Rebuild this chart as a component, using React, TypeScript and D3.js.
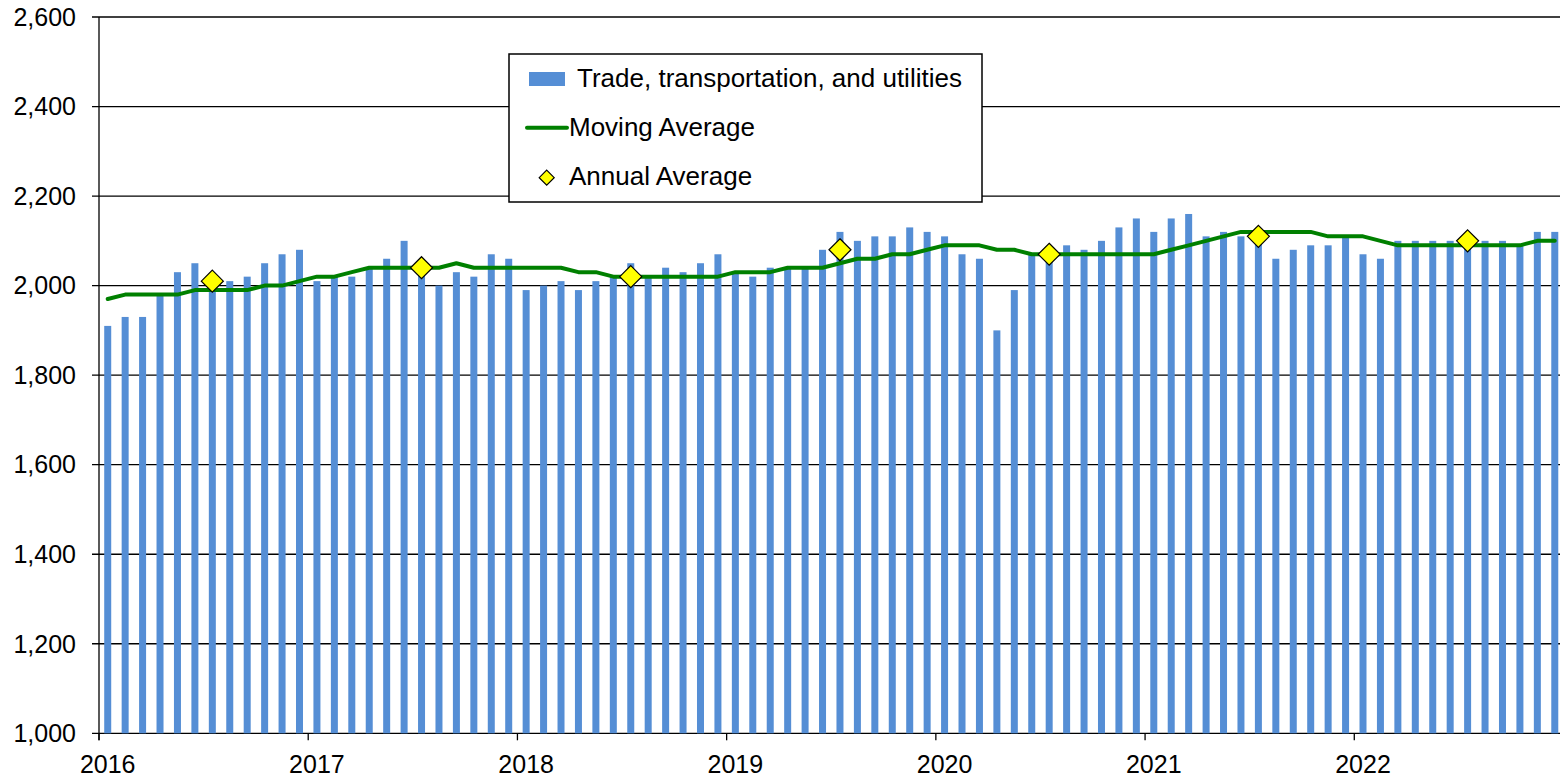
import * as d3 from "d3";
import * as React from "react";

// monthly values, Jan 2016 .. Dec 2022
const years = ["2016", "2017", "2018", "2019", "2020", "2021", "2022"];

const employment = [
  1910, 1930, 1930, 1980, 2030, 2050, 2020, 2010, 2020, 2050, 2070, 2080,
  2010, 2020, 2020, 2040, 2060, 2100, 2040, 2000, 2030, 2020, 2070, 2060,
  1990, 2000, 2010, 1990, 2010, 2020, 2050, 2020, 2040, 2030, 2050, 2070,
  2030, 2020, 2040, 2040, 2040, 2080, 2120, 2100, 2110, 2110, 2130, 2120,
  2110, 2070, 2060, 1900, 1990, 2070, 2070, 2090, 2080, 2100, 2130, 2150,
  2120, 2150, 2160, 2110, 2120, 2110, 2110, 2060, 2080, 2090, 2090, 2110,
  2070, 2060, 2100, 2100, 2100, 2100, 2100, 2100, 2100, 2090, 2120, 2120,
];

const movingAvg = [
  1970, 1980, 1980, 1980, 1980, 1990, 1990, 1990, 1990, 2000, 2000, 2010,
  2020, 2020, 2030, 2040, 2040, 2040, 2040, 2040, 2050, 2040, 2040, 2040,
  2040, 2040, 2040, 2030, 2030, 2020, 2020, 2020, 2020, 2020, 2020, 2020,
  2030, 2030, 2030, 2040, 2040, 2040, 2050, 2060, 2060, 2070, 2070, 2080,
  2090, 2090, 2090, 2080, 2080, 2070, 2070, 2070, 2070, 2070, 2070, 2070,
  2070, 2080, 2090, 2100, 2110, 2120, 2120, 2120, 2120, 2120, 2110, 2110,
  2110, 2100, 2090, 2090, 2090, 2090, 2090, 2090, 2090, 2090, 2100, 2100,
];

const annualAvg = [2010, 2040, 2020, 2080, 2070, 2110, 2100];

const yTicks = [1000, 1200, 1400, 1600, 1800, 2000, 2200, 2400, 2600];

const W = 1560, H = 778;
const left = 99, right = 1563.5, top = 17, bottom = 733.3;
const font = "'Liberation Sans', Arial, sans-serif";

export default function App() {
  const months = employment.map((_, i) => i);
  const x = d3.scaleBand<number>().domain(months).range([left, right]).padding(0);
  const cx = (i: number) => (x(i) as number) + x.bandwidth() / 2;
  const y = d3.scaleLinear().domain([1000, 2600]).range([bottom, top]);
  const fmt = d3.format(",");
  const barW = 7;

  const line = d3.line<number>()
    .x((_, i) => cx(i))
    .y((d) => y(d));

  const diamond = (px: number, py: number, r: number) =>
    `M${px},${py - r}L${px + r},${py}L${px},${py + r}L${px - r},${py}Z`;

  return (
    <svg width={W} height={H} style={{ position: "fixed", left: 0, top: 0, background: "#fff" }} fontFamily={font}>
      {/* gridlines */}
      {yTicks.map((t) => (
        <line key={"g" + t} x1={left - 7} x2={W} y1={y(t)} y2={y(t)} stroke="#000" strokeWidth={1.3} />
      ))}
      {yTicks.map((t) => (
        <text key={"yl" + t} x={76} y={y(t)} dy="0.35em" textAnchor="end" fontSize={25} fill="#000">{fmt(t)}</text>
      ))}
      <line x1={left} x2={left} y1={top} y2={bottom + 7} stroke="#000" strokeWidth={1.3} />

      {/* bars */}
      {employment.map((v, i) => (
        <rect key={"b" + i} x={cx(i) - barW / 2} y={y(v)} width={barW} height={bottom - y(v)} fill="#558ed5" />
      ))}

      {/* x axis ticks and year labels */}
      {years.map((yr, k) => (
        <g key={"yr" + yr}>
          <line x1={x(k * 12) as number} x2={x(k * 12) as number} y1={bottom} y2={bottom + 7} stroke="#000" strokeWidth={1.3} />
          <text x={cx(k * 12)} y={773} textAnchor="middle" fontSize={25} fill="#000">{yr}</text>
        </g>
      ))}

      {/* moving average */}
      <path d={line(movingAvg) || ""} fill="none" stroke="#008000" strokeWidth={4} strokeLinejoin="round" strokeLinecap="round" />

      {/* annual averages */}
      {annualAvg.map((v, k) => (
        <path key={"a" + k} d={diamond(cx(k * 12 + 6), y(v), 11)} fill="#ffff00" stroke="#000" strokeWidth={1.2} />
      ))}

      {/* legend */}
      <g>
        <rect x={509} y={54} width={473} height={148} fill="#fff" stroke="#000" strokeWidth={1.5} />
        <rect x={529} y={72} width={36} height={14} fill="#558ed5" />
        <text x={577} y={86.5} fontSize={26} fill="#000">Trade, transportation, and utilities</text>
        <line x1={527} x2={567} y1={127.7} y2={127.7} stroke="#008000" strokeWidth={4} strokeLinecap="round" />
        <text x={569} y={135.5} fontSize={26} fill="#000">Moving Average</text>
        <path d={diamond(546.7, 177.7, 7.5)} fill="#ffff00" stroke="#000" strokeWidth={1.2} />
        <text x={569} y={185} fontSize={26} fill="#000">Annual Average</text>
      </g>
    </svg>
  );
}
